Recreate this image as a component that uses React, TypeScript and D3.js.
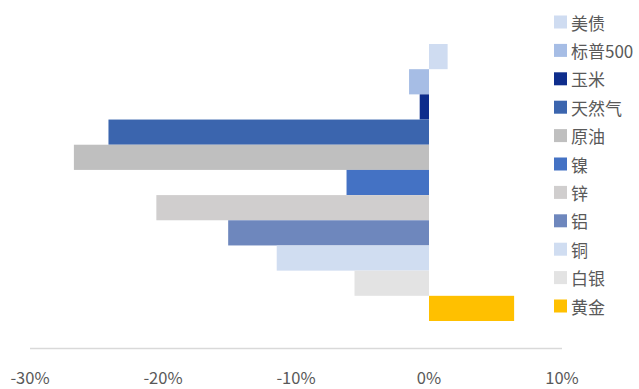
import React from "react";
import * as d3 from "d3";

const categories = ["美债", "标普500", "玉米", "天然气", "原油", "镍", "锌", "铝", "铜", "白银", "黄金"];
const values = [1.4, -1.5, -0.7, -24.1, -26.7, -6.2, -20.5, -15.1, -11.45, -5.6, 6.4];
const colors = ["#cfdcf1", "#a6bde5", "#0e2d8c", "#3b65ae", "#bfbfbf", "#4472c4", "#d0cece", "#6e87bd", "#d0ddf1", "#e3e3e3", "#ffc000"];
const ticks = [-30, -20, -10, 0, 10];

const W = 639, H = 389;
const FONT = "'Noto Sans CJK SC', 'Noto Sans', sans-serif";

export default function App() {
  const x = d3.scaleLinear().domain([-30, 10]).range([30, 562]);
  const y = d3.scaleBand<string>().domain(categories).range([44, 321]).padding(0);
  const fmt = (v: number) => `${v}%`;
  return (
    <svg width={W} height={H} style={{ position: "absolute", left: 0, top: 0 }} fontFamily={FONT}>
      <rect width={W} height={H} fill="#fff" />
      {categories.map((c, i) => (
        <rect
          key={c}
          x={x(Math.min(0, values[i]))}
          y={y(c)!}
          width={Math.abs(x(values[i]) - x(0))}
          height={y.bandwidth()}
          fill={colors[i]}
        />
      ))}
      <line x1={x(-30)} x2={x(10)} y1={348.5} y2={348.5} stroke="#d9d9d9" strokeWidth={1.5} />
      {ticks.map((t) => (
        <text key={t} x={x(t)} y={384} textAnchor="middle" fontSize={16.5} fill="#595959">
          {fmt(t)}
        </text>
      ))}
      {categories.map((c, i) => {
        const cy = 22 + i * 28.4;
        return (
          <g key={c}>
            <rect x={554} y={cy - 6.5} width={13} height={13} fill={colors[i]} />
            <text x={571} y={cy} dominantBaseline="central" fontSize={17} fill="#595959">
              {c}
            </text>
          </g>
        );
      })}
    </svg>
  );
}
